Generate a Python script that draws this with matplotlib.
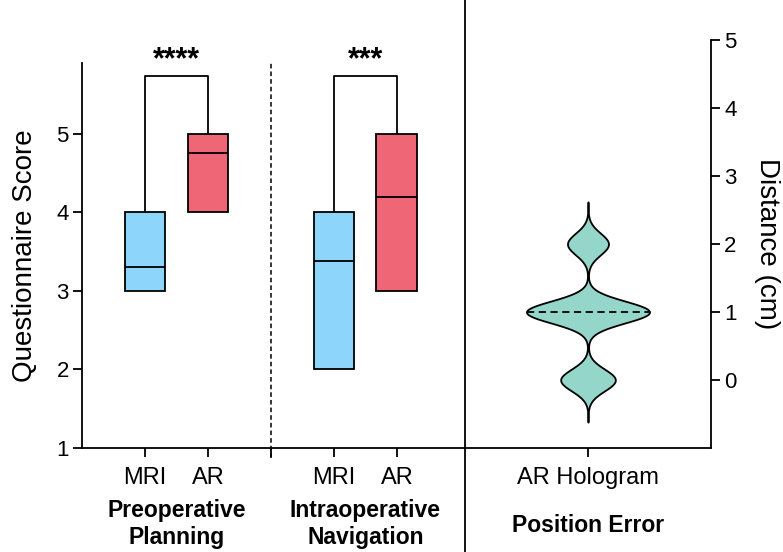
import numpy as np
import matplotlib
matplotlib.use("Agg")
import matplotlib.pyplot as plt
from matplotlib.lines import Line2D

plt.rcParams['font.family'] = ['Liberation Sans', 'DejaVu Sans']

# questionnaire scores (box: q1, median, q3), no whiskers
groups = ['MRI', 'AR', 'MRI', 'AR']
positions = [1, 2, 4, 5]
q1 = [3.0, 4.0, 2.0, 3.0]
med = [3.3, 4.75, 3.38, 4.2]
q3 = [4.0, 5.0, 4.0, 5.0]
box_colors = ['#8DD5FB', '#EF6676', '#8DD5FB', '#EF6676']
stars = ['****', '***']
sections = ['Preoperative\nPlanning', 'Intraoperative\nNavigation']

# position error of AR hologram (cm)
distance_cm = [0, 0, 0, 0, 0, 0, 0, 0,
               1, 1, 1, 1, 1, 1, 1, 1, 1, 1, 1, 1, 1, 1, 1, 1, 1, 1,
               2, 2, 2, 2, 2, 2]

fig = plt.figure(figsize=(7.83, 5.52), dpi=100)
ax1 = fig.add_axes([82/783, 1-448/552, (465-82)/783, (448-63)/552])
ax2 = fig.add_axes([465/783, 1-448/552, (711-465)/783, (448-40)/552])

lw = 1.3

# left panel: box plots
stats = []
for i in range(len(q1)):
    stats.append({'q1': q1[i], 'med': med[i], 'q3': q3[i],
                  'whislo': q1[i], 'whishi': q3[i], 'fliers': []})
bp = ax1.bxp(stats, positions=positions, widths=0.65, patch_artist=True,
             showcaps=False, manage_ticks=False,
             boxprops=dict(linewidth=lw, edgecolor='black'),
             medianprops=dict(color='black', linewidth=lw),
             whiskerprops=dict(linewidth=lw))
for patch, c in zip(bp['boxes'], box_colors):
    patch.set_facecolor(c)

# significance brackets
h = 5.73
for k in range(2):
    a, b = positions[2*k], positions[2*k+1]
    ax1.plot([a, a, b, b], [q3[2*k], h, h, q3[2*k+1]], color='black', lw=lw, clip_on=False)
    ax1.text((a+b)/2, h + 0.1, stars[k], ha='center', va='baseline', fontsize=22,
             fontweight='bold', clip_on=False)

ax1.axvline(3, color='black', lw=1.1, ls=(0, (3, 2)), ymin=-0.025, clip_on=False)

ax1.set_xlim(0, 6.08)
ax1.set_ylim(1, 5.9)
ax1.set_yticks([1, 2, 3, 4, 5])
ax1.set_xticks([1, 2, 3, 4, 5])
ax1.set_xticklabels(['MRI', 'AR', '', 'MRI', 'AR'])
ax1.tick_params(axis='y', labelsize=16, width=lw, length=6.5, pad=3)
ax1.tick_params(axis='x', labelsize=17, width=lw, length=6.5, pad=7)
ax1.set_ylabel('Questionnaire Score', fontsize=20, labelpad=13)
for s in ['top', 'right']:
    ax1.spines[s].set_visible(False)
for s in ['left', 'bottom']:
    ax1.spines[s].set_linewidth(lw)

for k, lab in enumerate(sections):
    ax1.text(1.5 + 3*k, (448-544)/385, lab, transform=ax1.get_xaxis_transform(),
             ha='center', va='baseline', fontsize=16.5, fontweight='bold')

# right panel: violin (gaussian kde)
vals = np.array(distance_cm, dtype=float)
bw = 0.16
grid = np.linspace(-0.62, 2.62, 500)
dens = np.exp(-0.5*((grid[:, None] - vals[None, :])/bw)**2).sum(axis=1)
dens = dens/dens.max()*0.5
ax2.fill_betweenx(grid, 1-dens, 1+dens, facecolor='#95D6CB', edgecolor='black', lw=lw)
m = np.median(vals)
dm = np.interp(m, grid, dens)
ax2.plot([1-dm, 1+dm], [m, m], color='black', lw=1.3, ls=(0, (4, 2.5)))

ax2.set_xlim(0, 2)
ax2.set_ylim(-1, 5)
ax2.set_yticks([0, 1, 2, 3, 4, 5])
ax2.set_xticks([1])
ax2.set_xticklabels(['AR Hologram'])
ax2.yaxis.tick_right()
ax2.yaxis.set_label_position('right')
ax2.tick_params(axis='y', labelsize=16, width=lw, length=6.5, pad=3)
ax2.tick_params(axis='x', labelsize=17, width=lw, length=6.5, pad=7)
ax2.set_ylabel('Distance (cm)', fontsize=20, rotation=270, labelpad=31)
for s in ['top', 'left']:
    ax2.spines[s].set_visible(False)
for s in ['right', 'bottom']:
    ax2.spines[s].set_linewidth(lw)
ax2.text(1, (448-532)/408, 'Position Error', transform=ax2.get_xaxis_transform(),
         ha='center', va='baseline', fontsize=16.5, fontweight='bold')

# solid separator between panels
fig.add_artist(Line2D([465/783, 465/783], [0, 1], color='black', lw=lw))

fig.savefig('out.png', dpi=100)
